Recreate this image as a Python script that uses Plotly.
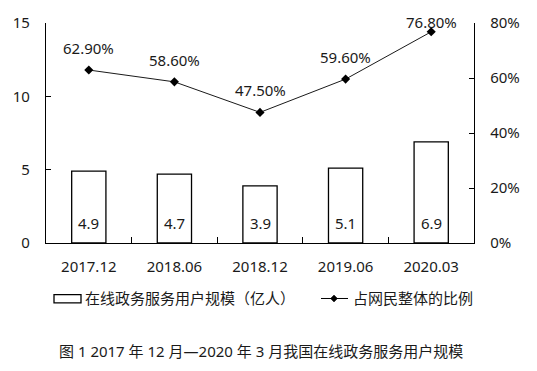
import plotly.graph_objects as go

categories = ["2017.12", "2018.06", "2018.12", "2019.06", "2020.03"]
users = [4.9, 4.7, 3.9, 5.1, 6.9]
ratio = [0.629, 0.586, 0.475, 0.596, 0.768]
ratio_labels = ["62.90%", "58.60%", "47.50%", "59.60%", "76.80%"]
label_shift = [22, 22, 22, 22, 10]
bar_name = "在线政务服务用户规模（亿人）"
line_name = "占网民整体的比例"
title_text = "图 1 2017 年 12 月—2020 年 3 月我国在线政务服务用户规模"

FONT = "Noto Sans, Noto Sans CJK SC, sans-serif"
FS = 15
W, H = 537, 371
L, R, T, B = 46, 474, 21, 243

def px(x):
    return (x - L) / (R - L)

def py(y):
    return (B - y) / (B - T)

fig = go.Figure()
fig.add_trace(go.Bar(x=categories, y=users, width=0.4,
                     marker=dict(color="white", line=dict(color="black", width=1.3)),
                     showlegend=False, hoverinfo="skip"))
fig.add_trace(go.Scatter(x=categories, y=ratio, yaxis="y2", mode="lines+markers",
                         line=dict(color="#1a1a1a", width=1),
                         marker=dict(symbol="diamond", size=7, color="black"),
                         showlegend=False))

ann = []
for i, v in enumerate(users):
    ann.append(dict(x=i, y=0, xref="x", yref="y", text=f"{v}", showarrow=False,
                    yshift=20, font=dict(size=FS, color="#1a1a1a", family=FONT)))
for i, (v, t, s) in enumerate(zip(ratio, ratio_labels, label_shift)):
    ann.append(dict(x=i, y=v, xref="x", yref="y2", text=t, showarrow=False,
                    yshift=s, font=dict(size=FS, color="#1a1a1a", family=FONT)))

# custom legend
ann.append(dict(x=px(83), y=py(299), xref="paper", yref="paper", text=bar_name,
                showarrow=False, xanchor="left", yanchor="middle",
                font=dict(size=FS, color="#1a1a1a", family=FONT)))
ann.append(dict(x=px(351), y=py(299), xref="paper", yref="paper", text=line_name,
                showarrow=False, xanchor="left", yanchor="middle",
                font=dict(size=FS, color="#1a1a1a", family=FONT)))
ann.append(dict(x=px(261), y=py(352), xref="paper", yref="paper", text=title_text,
                showarrow=False, xanchor="center", yanchor="middle",
                font=dict(size=FS, color="#1a1a1a", family=FONT)))

shapes = [
    dict(type="rect", xref="paper", yref="paper", x0=px(54), x1=px(81), y0=py(295), y1=py(303.5),
         line=dict(color="black", width=1.3), fillcolor="white"),
    dict(type="line", xref="paper", yref="paper", x0=px(321), x1=px(348), y0=py(299), y1=py(299),
         line=dict(color="black", width=1)),
    dict(type="path", xref="paper", yref="paper",
         path=f"M {px(334)} {py(295.5)} L {px(337.5)} {py(299)} L {px(334)} {py(302.5)} L {px(330.5)} {py(299)} Z",
         line=dict(color="black", width=0.5), fillcolor="black"),
]

fig.update_layout(
    width=W, height=H,
    margin=dict(l=L, r=W - R, t=T, b=H - B, pad=0),
    paper_bgcolor="white", plot_bgcolor="white",
    font=dict(family=FONT, size=FS, color="#1a1a1a"),
    annotations=ann, shapes=shapes, showlegend=False,
    xaxis=dict(type="category", range=[-0.5, 4.5], showline=True, linecolor="black", linewidth=1.3,
               ticks="inside", tickson="boundaries", ticklen=6, tickcolor="black", tickwidth=1,
               showgrid=False, ticklabelstandoff=10, tickfont=dict(size=FS)),
    yaxis=dict(range=[0, 15], dtick=5, showline=True, linecolor="black", linewidth=1.3,
               ticks="inside", ticklen=5, tickcolor="black", showgrid=False, zeroline=False,
               ticklabelstandoff=12, tickfont=dict(size=FS)),
    yaxis2=dict(range=[0, 0.8], dtick=0.2, tickformat=".0%", overlaying="y", side="right",
                showline=True, linecolor="black", linewidth=1.3, ticks="inside", ticklen=5,
                tickcolor="black", showgrid=False, zeroline=False,
                ticklabelstandoff=12, tickfont=dict(size=FS)),
)

fig.write_html("out.html", config={"displayModeBar": False},
               post_script="document.body.style.margin='0';")
